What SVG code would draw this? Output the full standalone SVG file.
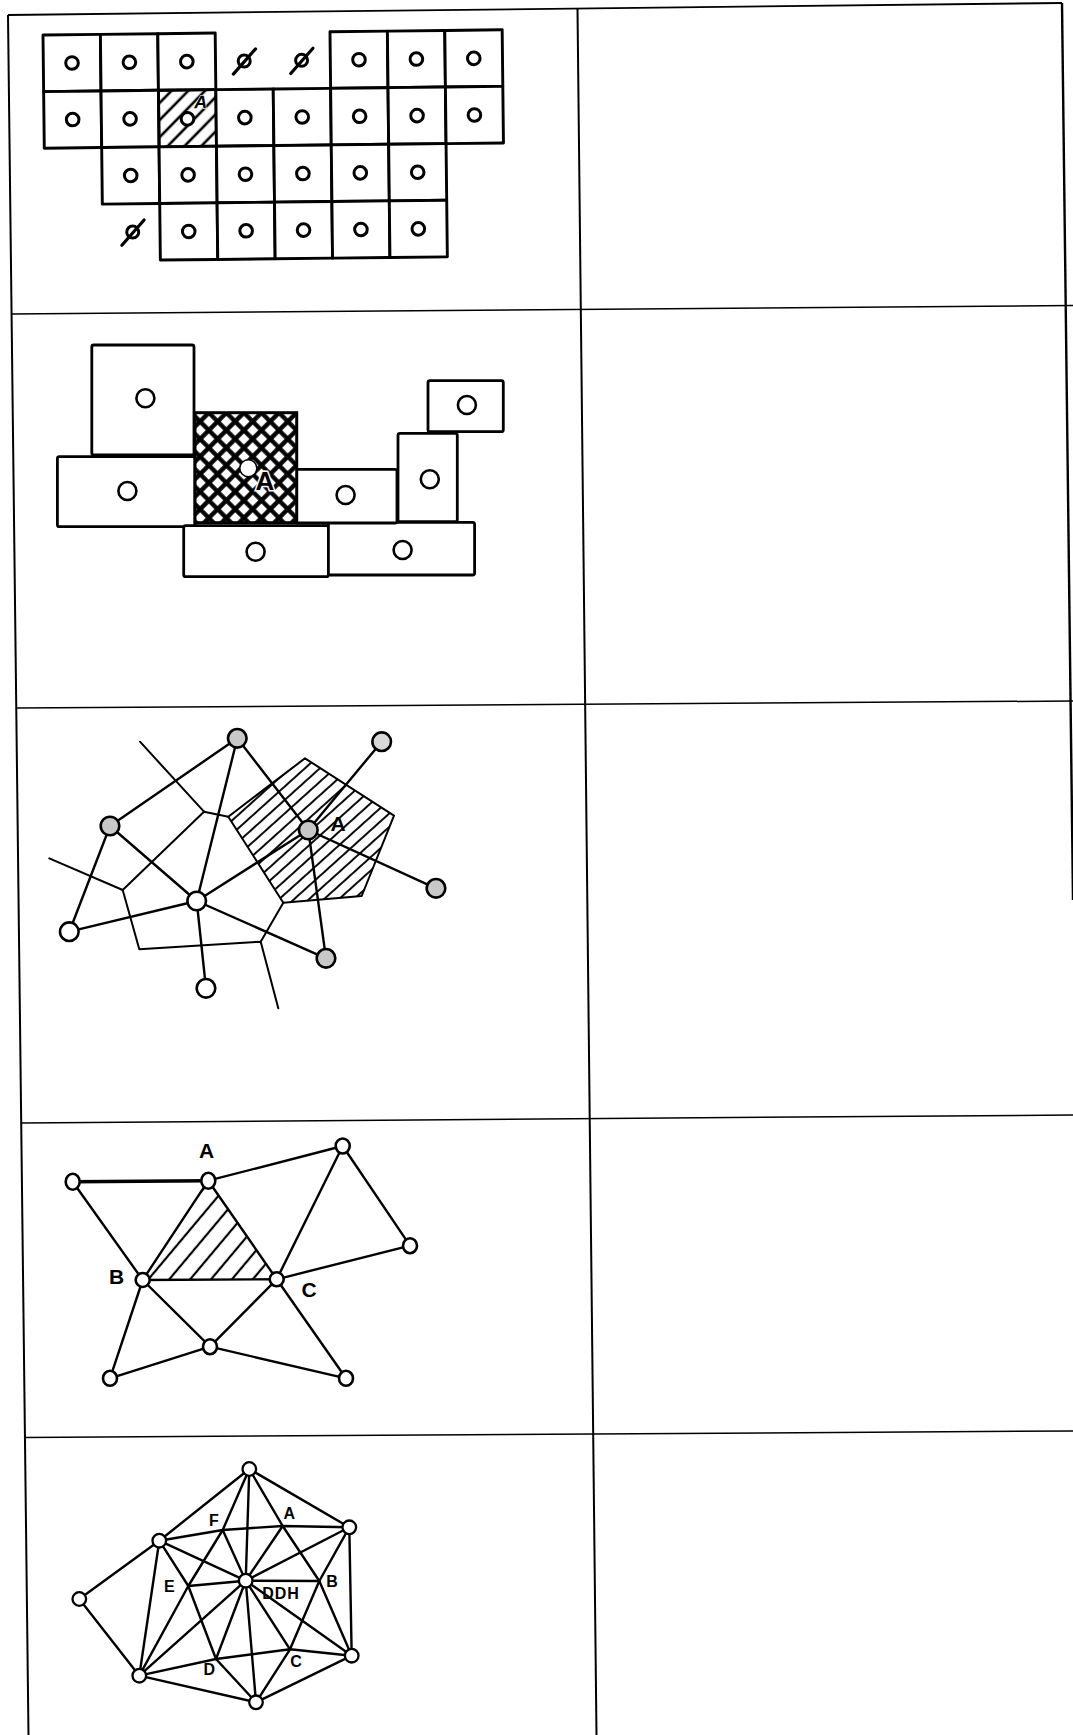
<svg xmlns="http://www.w3.org/2000/svg" width="1073" height="1735" viewBox="0 0 1073 1735">
<style>
.frame{stroke:#000;fill:none}
.cell{fill:#fff;stroke:#000;stroke-width:2.9;stroke-linejoin:round}
.dot1{fill:#fff;stroke:#000;stroke-width:3}
.box{fill:#fff;stroke:#000;stroke-width:2.8;stroke-linejoin:round}
.dot2{fill:#fff;stroke:#000;stroke-width:2.6}
.edge{stroke:#000;stroke-width:2.4;fill:none;stroke-linecap:round;stroke-linejoin:round}
.vor{stroke:#000;stroke-width:2;fill:none;stroke-linecap:round;stroke-linejoin:round}
.ng{fill:#c8c8c8;stroke:#000;stroke-width:2.6}
.nw{fill:#fff;stroke:#000;stroke-width:2.6}
.n4{fill:#fff;stroke:#000;stroke-width:2.6}
.n5{fill:#fff;stroke:#000;stroke-width:2.3}
.lbl{font-family:"Liberation Sans",Arial,sans-serif;font-weight:bold;fill:#000;text-anchor:middle}
</style>
<defs>
<pattern id="hatch1" width="12" height="12" patternUnits="userSpaceOnUse" patternTransform="rotate(45)"><line x1="6" y1="0" x2="6" y2="12" stroke="#000" stroke-width="2.6"/></pattern>
<pattern id="xhatch" width="12.4" height="12.4" patternUnits="userSpaceOnUse" patternTransform="rotate(45 195 413)"><rect width="12.4" height="12.4" fill="#fff"/><path d="M6.2 0V12.4M0 6.2H12.4" stroke="#000" stroke-width="4.4"/></pattern>
<pattern id="hatch3" width="10" height="10" patternUnits="userSpaceOnUse" patternTransform="rotate(48)"><line x1="5" y1="0" x2="5" y2="10" stroke="#000" stroke-width="1.9"/></pattern>
<pattern id="hatch4" width="16" height="16" patternUnits="userSpaceOnUse" patternTransform="rotate(40)"><line x1="8" y1="0" x2="8" y2="16" stroke="#000" stroke-width="2.2"/></pattern>
</defs>
<rect width="1073" height="1735" fill="#fff"/>

<g id="table" class="frame">
<line x1="8" y1="15" x2="1062" y2="3" stroke-width="1.8"/>
<line x1="8" y1="15" x2="28.5" y2="1735" stroke-width="2"/>
<line x1="577.5" y1="9" x2="596.5" y2="1735" stroke-width="2"/>
<line x1="1062" y1="3" x2="1073" y2="900" stroke-width="2.4"/>
<line x1="11" y1="314" x2="1073" y2="305.5" stroke-width="1.5"/>
<line x1="16" y1="708" x2="1073" y2="701" stroke-width="1.5"/>
<line x1="22" y1="1123" x2="1073" y2="1115" stroke-width="1.5"/>
<line x1="25" y1="1437.5" x2="1073" y2="1431" stroke-width="1.5"/>
</g>

<g id="panel1" transform="rotate(-0.65 43 35)">
<g id="c00"><rect class="cell" x="43" y="35" width="57.4" height="56.6"/><circle class="dot1" cx="71.7" cy="63.3" r="6.3"/></g>
<g id="c01"><rect class="cell" x="100.4" y="35" width="57.4" height="56.6"/><circle class="dot1" cx="129.1" cy="63.3" r="6.3"/></g>
<g id="c02"><rect class="cell" x="157.8" y="35" width="57.4" height="56.6"/><circle class="dot1" cx="186.5" cy="63.3" r="6.3"/></g>
<g id="c05"><rect class="cell" x="330" y="35" width="57.4" height="56.6"/><circle class="dot1" cx="358.7" cy="63.3" r="6.3"/></g>
<g id="c06"><rect class="cell" x="387.4" y="35" width="57.4" height="56.6"/><circle class="dot1" cx="416.1" cy="63.3" r="6.3"/></g>
<g id="c07"><rect class="cell" x="444.8" y="35" width="57.4" height="56.6"/><circle class="dot1" cx="473.5" cy="63.3" r="6.3"/></g>
<g id="c10"><rect class="cell" x="43" y="91.6" width="57.4" height="56.6"/><circle class="dot1" cx="71.7" cy="119.9" r="6.3"/></g>
<g id="c11"><rect class="cell" x="100.4" y="91.6" width="57.4" height="56.6"/><circle class="dot1" cx="129.1" cy="119.9" r="6.3"/></g>
<g id="c12"><rect class="cell" x="157.8" y="91.6" width="57.4" height="56.6" style="fill:url(#hatch1)"/><circle class="dot1" cx="186.5" cy="120.5" r="6.3"/><text class="lbl" x="200" y="110" font-size="18" font-style="italic" font-weight="normal" stroke="#fff" stroke-width="1.2" paint-order="stroke">A</text></g>
<g id="c13"><rect class="cell" x="215.2" y="91.6" width="57.4" height="56.6"/><circle class="dot1" cx="243.9" cy="119.9" r="6.3"/></g>
<g id="c14"><rect class="cell" x="272.6" y="91.6" width="57.4" height="56.6"/><circle class="dot1" cx="301.3" cy="119.9" r="6.3"/></g>
<g id="c15"><rect class="cell" x="330" y="91.6" width="57.4" height="56.6"/><circle class="dot1" cx="358.7" cy="119.9" r="6.3"/></g>
<g id="c16"><rect class="cell" x="387.4" y="91.6" width="57.4" height="56.6"/><circle class="dot1" cx="416.1" cy="119.9" r="6.3"/></g>
<g id="c17"><rect class="cell" x="444.8" y="91.6" width="57.4" height="56.6"/><circle class="dot1" cx="473.5" cy="119.9" r="6.3"/></g>
<g id="c21"><rect class="cell" x="100.4" y="148.2" width="57.4" height="56.6"/><circle class="dot1" cx="129.1" cy="176.5" r="6.3"/></g>
<g id="c22"><rect class="cell" x="157.8" y="148.2" width="57.4" height="56.6"/><circle class="dot1" cx="186.5" cy="176.5" r="6.3"/></g>
<g id="c23"><rect class="cell" x="215.2" y="148.2" width="57.4" height="56.6"/><circle class="dot1" cx="243.9" cy="176.5" r="6.3"/></g>
<g id="c24"><rect class="cell" x="272.6" y="148.2" width="57.4" height="56.6"/><circle class="dot1" cx="301.3" cy="176.5" r="6.3"/></g>
<g id="c25"><rect class="cell" x="330" y="148.2" width="57.4" height="56.6"/><circle class="dot1" cx="358.7" cy="176.5" r="6.3"/></g>
<g id="c26"><rect class="cell" x="387.4" y="148.2" width="57.4" height="56.6"/><circle class="dot1" cx="416.1" cy="176.5" r="6.3"/></g>
<g id="c32"><rect class="cell" x="157.8" y="204.8" width="57.4" height="56.6"/><circle class="dot1" cx="186.5" cy="233.1" r="6.3"/></g>
<g id="c33"><rect class="cell" x="215.2" y="204.8" width="57.4" height="56.6"/><circle class="dot1" cx="243.9" cy="233.1" r="6.3"/></g>
<g id="c34"><rect class="cell" x="272.6" y="204.8" width="57.4" height="56.6"/><circle class="dot1" cx="301.3" cy="233.1" r="6.3"/></g>
<g id="c35"><rect class="cell" x="330" y="204.8" width="57.4" height="56.6"/><circle class="dot1" cx="358.7" cy="233.1" r="6.3"/></g>
<g id="c36"><rect class="cell" x="387.4" y="204.8" width="57.4" height="56.6"/><circle class="dot1" cx="416.1" cy="233.1" r="6.3"/></g>
<g id="void03"><circle class="dot1" cx="243.9" cy="63.3" r="6"/><line x1="232.9" y1="76.3" x2="255.4" y2="51.3" stroke="#000" stroke-width="3.2" stroke-linecap="round"/></g>
<g id="void04"><circle class="dot1" cx="301.3" cy="63.3" r="6"/><line x1="290.3" y1="76.3" x2="312.8" y2="51.3" stroke="#000" stroke-width="3.2" stroke-linecap="round"/></g>
<g id="void31"><circle class="dot1" cx="130.5" cy="233.1" r="6"/><line x1="119.5" y1="246.1" x2="142" y2="221.1" stroke="#000" stroke-width="3.2" stroke-linecap="round"/></g>
</g>

<g id="panel2">
<g id="b1"><rect class="box" x="91.8" y="345" width="102.2" height="110" rx="2"/><circle class="dot2" cx="145.4" cy="398.3" r="9"/></g>
<g id="b2"><rect class="box" x="57.4" y="456.7" width="137.6" height="70" rx="2"/><circle class="dot2" cx="127.4" cy="491" r="9"/></g>
<g id="b7"><rect class="box" x="183.7" y="525.7" width="144.7" height="51" rx="2"/><circle class="dot2" cx="255.6" cy="551.7" r="9"/></g>
<g id="b8"><rect class="box" x="328.4" y="522.3" width="146.2" height="52.7" rx="2"/><circle class="dot2" cx="402.6" cy="550" r="9"/></g>
<g id="b4"><rect class="box" x="296" y="469.3" width="101" height="53.7" rx="2"/><circle class="dot2" cx="345.6" cy="495" r="9"/></g>
<g id="b5"><rect class="box" x="398" y="433.3" width="59.3" height="88.4" rx="2"/><circle class="dot2" cx="429.8" cy="479.3" r="9"/></g>
<g id="b6"><rect class="box" x="428" y="380.7" width="75.3" height="51" rx="2"/><circle class="dot2" cx="466.9" cy="405" r="9"/></g>
<g id="b3"><rect x="195" y="412.7" width="101.7" height="110" style="fill:url(#xhatch)" stroke="#000" stroke-width="3"/><circle cx="248.3" cy="468.3" r="8.5" fill="#fff" stroke="#000" stroke-width="1.5"/><text class="lbl" x="265" y="490" font-size="26" stroke="#fff" stroke-width="3" paint-order="stroke">A</text></g>
</g>

<g id="panel3">
<g id="voronoi" class="vor">
<polygon points="228.3,816.7 305,758.3 394,815.7 361.7,896 283.3,902.7" style="fill:url(#hatch3)"/>
<polyline points="49.3,858.3 122.7,890 139.3,949.3 260.7,941.7 278.3,1008.3"/>
<line x1="140" y1="741.7" x2="204" y2="811.7"/>
<line x1="204" y1="811.7" x2="228.3" y2="816.7"/>
<line x1="204" y1="811.7" x2="122.7" y2="890"/>
<line x1="260.7" y1="941.7" x2="283.3" y2="902.7"/>
</g>
<g id="p3-connectors" class="edge">
<line x1="237.3" y1="738.3" x2="110" y2="826"/>
<line x1="237.3" y1="738.3" x2="196.7" y2="901"/>
<line x1="237.3" y1="738.3" x2="308.3" y2="830"/>
<line x1="381.7" y1="741.7" x2="308.3" y2="830"/>
<line x1="110" y1="826" x2="196.7" y2="901"/>
<line x1="110" y1="826" x2="69.3" y2="931.7"/>
<line x1="69.3" y1="931.7" x2="196.7" y2="901"/>
<line x1="196.7" y1="901" x2="308.3" y2="830"/>
<line x1="196.7" y1="901" x2="326" y2="958.3"/>
<line x1="196.7" y1="901" x2="206" y2="988.3"/>
<line x1="308.3" y1="830" x2="326" y2="958.3"/>
<line x1="308.3" y1="830" x2="436" y2="888.3"/>
</g>
<g id="p3n1"><circle class="ng" cx="237.3" cy="738.3" r="9.3"/></g>
<g id="p3n2"><circle class="ng" cx="381.7" cy="741.7" r="9.3" style="fill:#d8d8d8"/></g>
<g id="p3n3"><circle class="ng" cx="110" cy="826" r="9.3"/></g>
<g id="p3n4"><circle class="ng" cx="308.3" cy="830" r="9.3"/></g>
<g id="p3n5"><circle class="nw" cx="196.7" cy="901" r="9.3"/></g>
<g id="p3n6"><circle class="nw" cx="69.3" cy="931.7" r="9.3"/></g>
<g id="p3n7"><circle class="ng" cx="436" cy="888.3" r="9.3"/></g>
<g id="p3n8"><circle class="ng" cx="326" cy="958.3" r="9.3"/></g>
<g id="p3n9"><circle class="nw" cx="206" cy="988.3" r="9.3"/></g>
<text class="lbl" x="338" y="831" font-size="21">A</text>
</g>

<g id="panel4">
<polygon points="208.3,1180.7 142.7,1280 276.7,1279.3" style="fill:url(#hatch4)" stroke="none"/>
<g id="p4-connectors" class="edge">
<line x1="72.7" y1="1181.7" x2="208.3" y2="1180.7" stroke-width="3.4"/>
<line x1="208.3" y1="1180.7" x2="342.7" y2="1146"/>
<line x1="342.7" y1="1146" x2="410" y2="1245.7"/>
<line x1="342.7" y1="1146" x2="276.7" y2="1279.3"/>
<line x1="410" y1="1245.7" x2="276.7" y2="1279.3"/>
<line x1="72.7" y1="1181.7" x2="142.7" y2="1280"/>
<line x1="208.3" y1="1180.7" x2="142.7" y2="1280"/>
<line x1="208.3" y1="1180.7" x2="276.7" y2="1279.3"/>
<line x1="142.7" y1="1280" x2="276.7" y2="1279.3"/>
<line x1="142.7" y1="1280" x2="210" y2="1346.7"/>
<line x1="142.7" y1="1280" x2="110" y2="1378.3"/>
<line x1="276.7" y1="1279.3" x2="210" y2="1346.7"/>
<line x1="276.7" y1="1279.3" x2="346" y2="1378.3"/>
<line x1="210" y1="1346.7" x2="110" y2="1378.3"/>
<line x1="210" y1="1346.7" x2="346" y2="1378.3"/>
</g>
<g id="p4m1"><ellipse class="n4" cx="72.7" cy="1181.7" rx="7" ry="8"/></g>
<g id="p4A"><ellipse class="n4" cx="208.3" cy="1180.7" rx="7" ry="8"/><text class="lbl" x="206.7" y="1158" font-size="21">A</text></g>
<g id="p4m3"><ellipse class="n4" cx="342.7" cy="1146" rx="7" ry="7.5"/></g>
<g id="p4m4"><ellipse class="n4" cx="410" cy="1245.7" rx="7" ry="7.5"/></g>
<g id="p4B"><ellipse class="n4" cx="142.7" cy="1280" rx="7" ry="7"/><text class="lbl" x="116.7" y="1284" font-size="21">B</text></g>
<g id="p4C"><ellipse class="n4" cx="276.7" cy="1279.3" rx="7" ry="7"/><text class="lbl" x="309" y="1297" font-size="21">C</text></g>
<g id="p4m7"><ellipse class="n4" cx="210" cy="1346.7" rx="7" ry="7.5"/></g>
<g id="p4m8"><ellipse class="n4" cx="110" cy="1378.3" rx="7" ry="7.5"/></g>
<g id="p4m9"><ellipse class="n4" cx="346" cy="1378.3" rx="7" ry="7.5"/></g>
</g>

<g id="panel5">
<g id="p5-connectors" class="edge" stroke-width="2.2">
<polyline points="159.3,1540.7 249.3,1469 349.3,1527.3 351.7,1655.7 256,1702.3 139.3,1675.7 79.3,1599 159.3,1540.7 139.3,1675.7"/>
<polyline points="159.3,1540.7 222.7,1530 282.7,1526 349.3,1527.3"/>
<polyline points="139.3,1675.7 216,1659 290,1649.3 351.7,1655.7"/>
<polyline points="249.3,1469 222.7,1530 188.3,1586 139.3,1675.7"/>
<polyline points="249.3,1469 282.7,1526 319.3,1581 351.7,1655.7"/>
<polyline points="159.3,1540.7 188.3,1586 216,1659 256,1702.3"/>
<polyline points="349.3,1527.3 319.3,1581 290,1649.3 256,1702.3"/>
<path d="M245.7 1580.7L249.3 1469M245.7 1580.7L349.3 1527.3M245.7 1580.7L159.3 1540.7M245.7 1580.7L351.7 1655.7M245.7 1580.7L139.3 1675.7M245.7 1580.7L256 1702.3M245.7 1580.7L222.7 1530M245.7 1580.7L282.7 1526M245.7 1580.7L319.3 1581M245.7 1580.7L290 1649.3M245.7 1580.7L216 1659M245.7 1580.7L188.3 1586"/>
</g>
<g id="p5q1"><circle class="n5" cx="249.3" cy="1469" r="6.8"/></g>
<g id="p5q2"><circle class="n5" cx="349.3" cy="1527.3" r="6.8"/></g>
<g id="p5q3"><circle class="n5" cx="159.3" cy="1540.7" r="6.8"/></g>
<g id="p5q4"><circle class="n5" cx="79.3" cy="1599" r="6.8"/></g>
<g id="p5q5"><circle class="n5" cx="351.7" cy="1655.7" r="6.8"/></g>
<g id="p5q6"><circle class="n5" cx="139.3" cy="1675.7" r="6.8"/></g>
<g id="p5q7"><circle class="n5" cx="256" cy="1702.3" r="6.8"/></g>
<g id="p5ddh"><circle class="n5" cx="245.7" cy="1580.7" r="6.8"/><text class="lbl" x="281" y="1599" font-size="16" letter-spacing="1">DDH</text></g>
<g id="p5labels">
<text class="lbl" x="214" y="1525.5" font-size="16">F</text>
<text class="lbl" x="289.3" y="1518.5" font-size="16">A</text>
<text class="lbl" x="332" y="1586.5" font-size="16">B</text>
<text class="lbl" x="169.3" y="1591.5" font-size="16">E</text>
<text class="lbl" x="296" y="1666.5" font-size="16">C</text>
<text class="lbl" x="209.3" y="1675" font-size="16">D</text>
</g>
</g>
</svg>
